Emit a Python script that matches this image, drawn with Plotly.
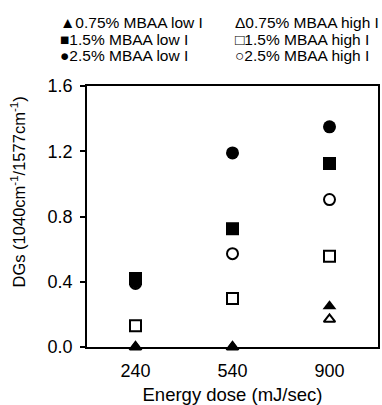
import plotly.graph_objects as go

# ---- data ----
doses = ["240", "540", "900"]
low_075 = [0.0, 0.0, 0.25]
high_075 = [0.0, 0.0, 0.17]
low_15 = [0.42, 0.725, 1.125]
high_15 = [0.13, 0.297, 0.557]
low_25 = [0.40, 1.19, 1.35]
high_25 = [0.39, 0.572, 0.904]
series_names = ["0.75% MBAA low I", "0.75% MBAA high I",
                "1.5% MBAA low I", "1.5% MBAA high I",
                "2.5% MBAA low I", "2.5% MBAA high I"]
y_ticks = [0.0, 0.4, 0.8, 1.2, 1.6]
x_title = "Energy dose (mJ/sec)"
y_title = "DGs (1040cm<sup>-1</sup>/1577cm<sup>-1</sup>)"

FONT = "Arial, Liberation Sans, sans-serif"

# (name, values, symbol, filled, legend glyph)
series = [
    (series_names[1], high_075, "triangle-up", False, "\u0394"),
    (series_names[3], high_15, "square", False, "\u25A1"),
    (series_names[5], high_25, "circle", False, "\u25CB"),
    (series_names[4], low_25, "circle", True, "\u25CF"),
    (series_names[2], low_15, "square", True, "\u25A0"),
    (series_names[0], low_075, "triangle-up", True, "\u25B2"),
]

fig = go.Figure()
for name, vals, sym, filled, glyph in series:
    if sym == "triangle-up":
        size = 12 if filled else 10
    else:
        size = 13 if filled else 11
    marker = dict(symbol=sym, size=size,
                  color="black" if filled else "white",
                  line=dict(color="black", width=0 if filled else 2))
    fig.add_trace(go.Scatter(x=doses, y=vals, mode="markers", name=name,
                             marker=marker, cliponaxis=False, showlegend=False))

L, R, T, B = 87, 2, 86, 58
W, H = 382, 405
pw, ph = W - L - R, H - T - B


def px_x(px):
    return (px - L) / pw


def px_y(py):
    return (H - B - py) / ph


# legend drawn as text annotations (two columns, three rows)
glyphs = {s[0]: s[4] for s in series}
col_x = [58, 234]
row_y = [23, 39.5, 56]
for i, name in enumerate(series_names):
    row, col = i // 2, i % 2
    fig.add_annotation(
        x=px_x(col_x[col]), y=px_y(row_y[row]),
        xref="paper", yref="paper", xanchor="left", yanchor="middle",
        text=glyphs[name] + name, showarrow=False,
        font=dict(family=FONT, size=15.5, color="black"))

# y-axis title (placed slightly above the plot centre, as in the reference)
fig.add_annotation(
    x=px_x(18), y=px_y(192), xref="paper", yref="paper",
    xanchor="center", yanchor="middle", textangle=-90,
    text=y_title, showarrow=False,
    font=dict(family=FONT, size=16.5, color="black"))

fig.update_layout(
    width=W, height=H,
    margin=dict(l=L, r=R, t=T, b=B),
    plot_bgcolor="white", paper_bgcolor="white",
    font=dict(family=FONT, size=18, color="black"),
    showlegend=False,
)
fig.update_xaxes(
    type="category", range=[-0.5, 2.5],
    showline=True, linecolor="black", linewidth=1.5, mirror=True,
    showgrid=False, ticks="", zeroline=False,
    ticklabelstandoff=7,
    title=dict(text=x_title, font=dict(size=18.5), standoff=9),
    tickfont=dict(size=18),
)
fig.update_yaxes(
    range=[0, 1.6], tickvals=y_ticks, tickformat=".1f",
    showline=True, linecolor="black", linewidth=1.5, mirror=True,
    showgrid=False, zeroline=False,
    ticks="outside", ticklen=5, tickwidth=1.5, tickcolor="black",
    ticklabelstandoff=4,
    tickfont=dict(size=18),
)

fig.write_html("out.html", config={"displayModeBar": False},
               post_script="document.body.style.margin='0';document.body.style.padding='0';")
